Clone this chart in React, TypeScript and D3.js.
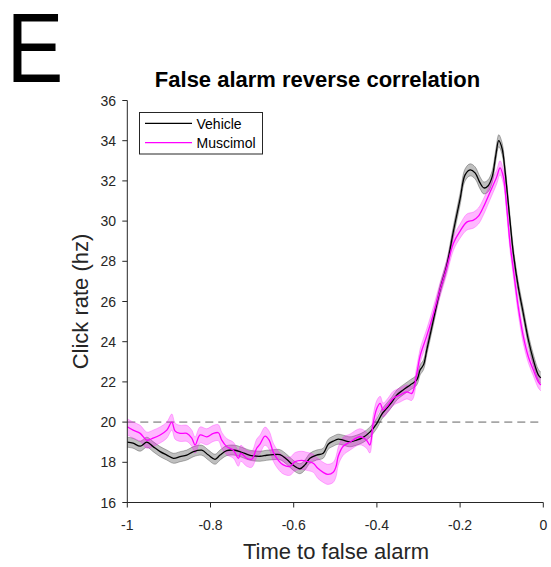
import React from "react";
import * as d3 from "d3";

const vehicleT = [-1.000,-0.986,-0.969,-0.953,-0.938,-0.921,-0.905,-0.889,-0.873,-0.857,-0.841,-0.821,-0.805,-0.789,-0.777,-0.761,-0.741,-0.725,-0.705,-0.681,-0.665,-0.649,-0.633,-0.617,-0.601,-0.585,-0.573,-0.561,-0.545,-0.529,-0.517,-0.505,-0.493,-0.481,-0.465,-0.449,-0.433,-0.417,-0.400,-0.388,-0.376,-0.364,-0.352,-0.337,-0.320,-0.304,-0.296,-0.288,-0.280,-0.264,-0.248,-0.232,-0.216,-0.200,-0.188,-0.176,-0.164,-0.152,-0.143,-0.133,-0.123,-0.114,-0.107,-0.099,-0.092,-0.080,-0.072,-0.060,-0.048,-0.036,-0.024,-0.012,-0.006];
const vehicleMean = [19.0,18.95,18.8,19.0,18.78,18.53,18.36,18.2,18.28,18.36,18.53,18.6,18.36,18.15,18.36,18.58,18.6,18.5,18.35,18.3,18.35,18.38,18.38,18.15,17.85,17.68,17.87,18.2,18.36,18.45,18.9,19.05,19.15,19.1,19.02,19.1,19.24,19.5,19.94,20.4,20.7,21.0,21.35,21.6,21.85,22.1,22.6,22.85,23.6,25.1,26.6,27.8,29.5,31.1,32.3,32.55,32.4,31.9,31.65,31.75,32.2,33.3,34.0,33.6,32.5,30.0,28.4,26.7,25.4,24.1,23.1,22.35,22.2];
const vehicleSem = [0.25,0.25,0.25,0.25,0.25,0.25,0.25,0.25,0.25,0.25,0.25,0.25,0.25,0.25,0.25,0.25,0.25,0.25,0.25,0.25,0.25,0.25,0.25,0.25,0.25,0.25,0.25,0.25,0.25,0.25,0.25,0.25,0.25,0.25,0.25,0.25,0.25,0.25,0.25,0.25,0.25,0.25,0.25,0.25,0.25,0.25,0.25,0.25,0.25,0.25,0.25,0.25,0.28,0.3,0.3,0.3,0.3,0.3,0.3,0.3,0.3,0.3,0.3,0.3,0.3,0.28,0.28,0.28,0.28,0.28,0.28,0.28,0.28];

const muscimolT = [-1.000,-0.986,-0.969,-0.953,-0.938,-0.921,-0.905,-0.893,-0.885,-0.873,-0.857,-0.845,-0.837,-0.825,-0.809,-0.793,-0.781,-0.773,-0.761,-0.745,-0.733,-0.727,-0.713,-0.701,-0.689,-0.681,-0.669,-0.659,-0.649,-0.637,-0.625,-0.609,-0.597,-0.581,-0.569,-0.553,-0.542,-0.529,-0.518,-0.505,-0.498,-0.493,-0.481,-0.465,-0.441,-0.425,-0.417,-0.409,-0.400,-0.392,-0.385,-0.373,-0.361,-0.344,-0.328,-0.316,-0.304,-0.296,-0.280,-0.264,-0.248,-0.232,-0.216,-0.200,-0.184,-0.168,-0.156,-0.144,-0.129,-0.112,-0.104,-0.096,-0.088,-0.080,-0.072,-0.060,-0.048,-0.036,-0.024,-0.012,-0.006];
const muscimolMean = [19.77,19.6,19.44,19.1,19.2,19.36,19.6,20.0,19.55,19.44,19.44,19.2,18.86,19.36,19.27,19.44,19.47,19.1,18.78,18.6,18.2,18.45,18.2,18.15,18.7,18.9,19.3,19.1,18.5,18.1,17.87,17.8,18.03,18.1,18.05,17.95,17.7,17.5,17.4,17.5,17.8,18.3,18.8,19.0,19.27,19.1,18.86,19.94,20.69,20.93,20.6,20.85,21.18,21.35,21.5,21.43,22.43,23.3,24.3,25.4,26.6,27.7,28.9,29.5,29.95,30.05,30.25,30.7,31.4,32.2,32.65,32.2,30.7,28.9,27.6,25.7,24.25,23.25,22.6,22.0,21.85];
const muscimolSem = [0.4,0.4,0.4,0.4,0.4,0.4,0.4,0.4,0.4,0.4,0.4,0.4,0.4,0.4,0.4,0.4,0.4,0.4,0.4,0.4,0.4,0.4,0.4,0.4,0.45,0.45,0.45,0.45,0.45,0.45,0.45,0.45,0.45,0.45,0.45,0.45,0.5,0.5,0.5,0.5,0.5,0.45,0.45,0.4,0.4,0.4,0.4,0.4,0.4,0.35,0.35,0.35,0.35,0.35,0.35,0.35,0.35,0.35,0.35,0.35,0.35,0.35,0.35,0.35,0.4,0.4,0.4,0.4,0.38,0.35,0.35,0.35,0.35,0.35,0.35,0.35,0.35,0.3,0.3,0.3,0.3];

const xTicks = [-1, -0.8, -0.6, -0.4, -0.2, 0];
const yTicks = [16, 18, 20, 22, 24, 26, 28, 30, 32, 34, 36];
const baselineRate = 20;
const seriesNames = ["Vehicle", "Muscimol"];

const FONT = "'Liberation Sans', Arial, sans-serif";
const AX = "#262626";

export default function App() {
  const x = d3.scaleLinear().domain([-1, 0]).range([127.3, 543.3]);
  const y = d3.scaleLinear().domain([16, 36]).range([502.5, 100.5]);
  const curve = d3.curveCatmullRom.alpha(0.5);

  const mk = (T: number[], M: number[], S: number[]) => {
    const pts = T.map((t, i) => ({ t, m: M[i], s: S[i] }));
    const area = d3.area<any>().x(d => x(d.t)).y0(d => y(d.m - d.s)).y1(d => y(d.m + d.s)).curve(curve)(pts) || "";
    const line = d3.line<any>().x(d => x(d.t)).y(d => y(d.m)).curve(curve)(pts) || "";
    const up = d3.line<any>().x(d => x(d.t)).y(d => y(d.m + d.s)).curve(curve)(pts) || "";
    const lo = d3.line<any>().x(d => x(d.t)).y(d => y(d.m - d.s)).curve(curve)(pts) || "";
    return { area, line, up, lo };
  };
  const veh = mk(vehicleT, vehicleMean, vehicleSem);
  const mus = mk(muscimolT, muscimolMean, muscimolSem);

  return (
    <svg width={551} height={567} style={{ position: "absolute", left: 0, top: 0, background: "#fff" }} fontFamily={FONT}>
      <rect width={551} height={567} fill="#fff" />
      <text transform="translate(6.5,82) scale(0.87,1)" x={0} y={0} fontSize={98} fill="#000">E</text>
      <text x={317.5} y={87} fontSize={22} fontWeight="bold" textAnchor="middle" fill="#000">False alarm reverse correlation</text>

      {/* dashed baseline */}
      <line x1={x(-1)} x2={x(0)} y1={y(baselineRate)} y2={y(baselineRate)} stroke="#a6a6a6" strokeWidth={1.8} strokeDasharray="8,5" />

      {/* vehicle */}
      <path d={veh.area} fill="#000" fillOpacity={0.25} />
      <path d={veh.up} fill="none" stroke="#000" strokeOpacity={0.35} strokeWidth={0.8} />
      <path d={veh.lo} fill="none" stroke="#000" strokeOpacity={0.35} strokeWidth={0.8} />
      {/* muscimol */}
      <path d={mus.area} fill="#ff00ff" fillOpacity={0.28} />
      <path d={mus.up} fill="none" stroke="#ff00ff" strokeOpacity={0.35} strokeWidth={0.8} />
      <path d={mus.lo} fill="none" stroke="#ff00ff" strokeOpacity={0.35} strokeWidth={0.8} />
      <path d={veh.line} fill="none" stroke="#000" strokeWidth={1.3} />
      <path d={mus.line} fill="none" stroke="#ff00ff" strokeWidth={1.3} />

      {/* axes */}
      <line x1={127.3} x2={127.3} y1={y(36)} y2={y(16) + 0.5} stroke={AX} strokeWidth={1} />
      <line x1={127.3} x2={x(0)} y1={y(16)} y2={y(16)} stroke={AX} strokeWidth={1} />
      {yTicks.map(v => (
        <g key={"y" + v}>
          <line x1={122.3} x2={127.3} y1={y(v)} y2={y(v)} stroke={AX} />
          <text x={116} y={y(v) + 5} fontSize={14} textAnchor="end" fill={AX}>{v}</text>
        </g>
      ))}
      {xTicks.map(v => (
        <g key={"x" + v}>
          <line x1={x(v)} x2={x(v)} y1={y(16)} y2={y(16) + 5} stroke={AX} />
          <text x={x(v)} y={530} fontSize={14} textAnchor="middle" fill={AX}>{v === 0 ? "0" : String(v)}</text>
        </g>
      ))}
      <text x={336} y={559} fontSize={22} textAnchor="middle" fill={AX}>Time to false alarm</text>
      <text transform={`translate(88,${301.5}) rotate(-90)`} fontSize={22} textAnchor="middle" fill={AX}>Click rate (hz)</text>

      {/* legend */}
      <rect x={139.5} y={112.5} width={123} height={41.5} fill="#fff" stroke={AX} strokeWidth={1} />
      <line x1={145} x2={192} y1={123.3} y2={123.3} stroke="#000" strokeWidth={1.3} />
      <line x1={145} x2={192} y1={142.7} y2={142.7} stroke="#ff00ff" strokeWidth={1.3} />
      <text x={196.5} y={129} fontSize={14} fill="#000">{seriesNames[0]}</text>
      <text x={196.5} y={148} fontSize={14} fill="#000">{seriesNames[1]}</text>
    </svg>
  );
}
